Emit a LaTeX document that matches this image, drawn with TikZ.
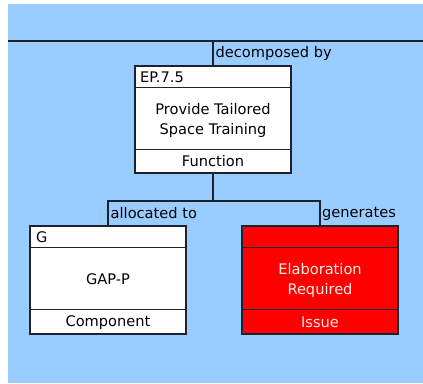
\documentclass[tikz,border=0pt]{standalone}
\usepackage{fontspec}
\setmainfont{DejaVu Sans}
\definecolor{canvasblue}{RGB}{153,204,255}
\definecolor{edgedark}{RGB}{30,34,44}
\definecolor{issuered}{RGB}{255,0,0}
\definecolor{issuetext}{RGB}{255,235,235}
\begin{document}
\begin{tikzpicture}[x=1pt,y=-1pt,
  every node/.style={font=\fontsize{14.6}{20}\selectfont, inner sep=0pt},
  card/.style={draw=edgedark, line width=1.4pt, minimum width=156pt, minimum height=108pt,
    rectangle, fill=white},
  issuecard/.style={card, fill=issuered},
  link/.style={draw=edgedark, line width=1.4pt},
  sep/.style={draw=edgedark, line width=1.2pt},
  lbl/.style={anchor=west, text=black}
]
% canvas
\useasboundingbox (0,0) rectangle (423,383);
\fill[white] (0,0) rectangle (423,383);
\fill[canvasblue] (8,4) rectangle (423,383);

% parent relation line
\coordinate (railL) at (8,41);
\coordinate (railR) at (423,41);
\coordinate (railJ) at (213,41);
\draw[link] (railL) -- (railR);

% cards
\node[card, minimum height=107pt] (ep) at (213,119.5) {};
\node[card] (gap) at (108,280) {};
\node[issuecard] (iss) at (320,280) {};

% card compartments
\draw[sep] ([yshift=-22pt]ep.north west) -- ([yshift=-22pt]ep.north east);
\draw[sep] ([yshift=24pt]ep.south west) -- ([yshift=24pt]ep.south east);
\draw[sep] ([yshift=-22pt]gap.north west) -- ([yshift=-22pt]gap.north east);
\draw[sep] ([yshift=25pt]gap.south west) -- ([yshift=25pt]gap.south east);
\draw[sep] ([yshift=-22pt]iss.north west) -- ([yshift=-22pt]iss.north east);
\draw[sep] ([yshift=25pt]iss.south west) -- ([yshift=25pt]iss.south east);

% card texts
\node[anchor=west] (epid) at (140,77.5) {EP.7.5};
\node[align=center] (epname) at (213,120.5) {Provide Tailored\\Space Training};
\node (eptype) at (213,161.5) {Function};
\node[anchor=west] (gapid) at (36,237.5) {G};
\node (gapname) at (108,279.5) {GAP-P};
\node (gaptype) at (108,322.5) {Component};
\node[align=center, text=issuetext] (issname) at (320,280.5) {Elaboration\\Required};
\node[text=issuetext] (isstype) at (320,322.5) {Issue};

% connectors
\draw[link] (railJ) -- (ep.north);
\coordinate (fork) at (213,201);
\draw[link] (ep.south) -- (fork);
\draw[link] (fork) -| (gap.north);
\draw[link] (fork) -| (iss.north);

% relation labels
\node[lbl] (lblDec) at (215.5,53) {decomposed by};
\node[lbl] (lblAlloc) at (110.5,213.5) {allocated to};
\node[lbl] (lblGen) at (322,213.5) {generates};
\end{tikzpicture}
\end{document}
